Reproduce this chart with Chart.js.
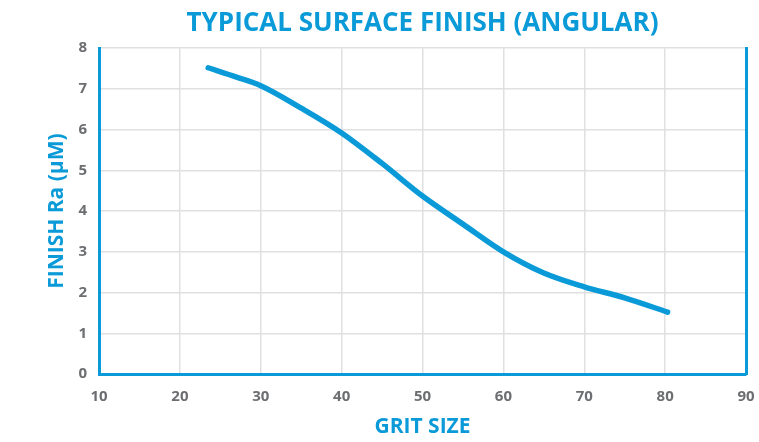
<!DOCTYPE html>
<html>
<head>
<meta charset="utf-8">
<script src="https://cdn.jsdelivr.net/npm/chart.js@4"></script>
<style>
  html, body { margin: 0; padding: 0; background: #fff; }
  #wrap { width: 759px; height: 442px; }
</style>
</head>
<body>
<div id="wrap"><canvas id="finish-chart" width="759" height="442"></canvas></div>
<script>
// values
const gritSize = [23.5, 27, 30, 35, 40, 45, 50, 55, 60, 65, 70, 75, 80.3];
const finishRa = [7.52, 7.29, 7.08, 6.53, 5.92, 5.17, 4.37, 3.68, 3.0, 2.48, 2.14, 1.87, 1.52];
const xTicks = [10, 20, 30, 40, 50, 60, 70, 80, 90];
const yTicks = [0, 1, 2, 3, 4, 5, 6, 7, 8];

const blue = '#0a9ad8';
const gray = '#6d6e71';
const gridColor = '#e0e0e0';
const fontFamily = '"Open Sans", "DejaVu Sans", sans-serif';

const points = gritSize.map((g, i) => ({ x: g, y: finishRa[i] }));

new Chart(document.getElementById('finish-chart'), {
    type: 'line',
    data: {
        datasets: [{
            data: points,
            borderColor: blue,
            borderWidth: 5.5,
            borderCapStyle: 'round',
            pointRadius: 0,
            cubicInterpolationMode: 'monotone',
            fill: false
        }]
    },
    options: {
        responsive: false,
        animation: false,
        layout: { padding: { left: 41, right: 13, top: 0, bottom: 0 } },
        plugins: {
            legend: { display: false },
            tooltip: { enabled: false },
            title: {
                display: true,
                fullSize: false,   // centre the title over the plot area
                text: 'TYPICAL SURFACE FINISH (ANGULAR)',
                color: blue,
                font: { family: fontFamily, size: 26, weight: 'bold' },
                padding: { top: 8, bottom: 9 }
            }
        },
        scales: {
            x: {
                type: 'linear',
                min: xTicks[0],
                max: xTicks[xTicks.length - 1],
                afterBuildTicks: (axis) => { axis.ticks = xTicks.map(v => ({ value: v })); },
                afterFit: (axis) => { axis.height = 68; axis.paddingRight = 0; },
                grid: { color: gridColor, lineWidth: 1.5, drawTicks: false },
                border: { color: blue, width: 3 },
                ticks: {
                    color: gray,
                    padding: 14,
                    font: { family: fontFamily, size: 15, weight: 'bold' }
                },
                title: {
                    display: true,
                    text: 'GRIT SIZE',
                    color: blue,
                    font: { family: fontFamily, size: 21, weight: 'bold' },
                    padding: { top: 4, bottom: 2 }
                }
            },
            y: {
                type: 'linear',
                min: yTicks[0],
                max: yTicks[yTicks.length - 1],
                afterBuildTicks: (axis) => { axis.ticks = yTicks.map(v => ({ value: v })); },
                afterFit: (axis) => { axis.width = 58; },
                grid: { color: gridColor, lineWidth: 1.5, drawTicks: false },
                border: { color: blue, width: 3 },
                ticks: {
                    color: gray,
                    padding: 12,
                    font: { family: fontFamily, size: 15, weight: 'bold' }
                },
                title: {
                    display: true,
                    text: 'FINISH Ra (μM)',
                    color: blue,
                    font: { family: fontFamily, size: 21, weight: 'bold' },
                    padding: { top: 3, bottom: 4 }
                }
            },
            // right-hand blue frame line
            yRight: {
                type: 'linear',
                position: 'right',
                min: yTicks[0],
                max: yTicks[yTicks.length - 1],
                afterFit: (axis) => { axis.width = 0; },
                grid: { display: false, drawTicks: false },
                border: { color: blue, width: 3 },
                ticks: { display: false }
            }
        }
    }
});
</script>
</body>
</html>
